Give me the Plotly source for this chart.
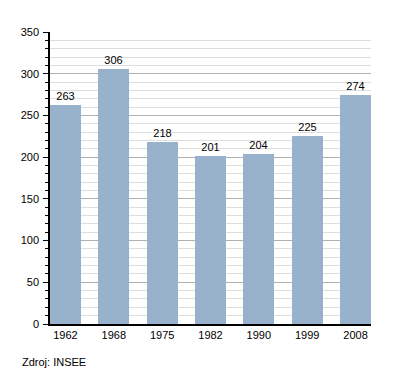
import plotly.graph_objects as go

years = ["1962", "1968", "1975", "1982", "1990", "1999", "2008"]
population = [263, 306, 218, 201, 204, 225, 274]
y_ticks = [0, 50, 100, 150, 200, 250, 300, 350]
source = "Zdroj: INSEE"

xs = list(range(len(years)))

fig = go.Figure(go.Bar(
    x=xs, y=population, width=0.64,
    marker=dict(color="#98b2cc", line=dict(width=0)),
    text=[str(v) for v in population], textposition="outside",
    textfont=dict(family="Liberation Sans, Arial", size=11, color="black"),
    cliponaxis=False,
))

fig.update_layout(
    width=400, height=373,
    margin=dict(l=50, r=29, t=32, b=49),
    paper_bgcolor="white", plot_bgcolor="white",
    font=dict(family="Liberation Sans, Arial", size=11, color="black"),
    showlegend=False,
    bargap=0,
)
fig.update_xaxes(
    range=[-0.32, 6.32], tickvals=xs, ticktext=years,
    showgrid=False, zeroline=False,
    showline=True, linecolor="black", linewidth=1.5,
    ticks="", ticklen=0,
)
fig.update_yaxes(
    range=[0, 350], tickvals=y_ticks,
    showgrid=True, gridcolor="#b0b0b0", gridwidth=1,
    zeroline=False,
    showline=True, linecolor="black", linewidth=1.5,
    ticks="outside", ticklen=5, tickcolor="black", tickwidth=1,
    ticklabelstandoff=2,
    minor=dict(dtick=10, showgrid=True, gridcolor="#dedede", gridwidth=1,
               ticks="outside", ticklen=3, tickcolor="black"),
)
fig.add_annotation(text=source, xref="paper", yref="paper", x=-0.095, y=-0.13,
                   xanchor="left", yanchor="middle", showarrow=False,
                   font=dict(family="Liberation Sans, Arial", size=11, color="black"))

fig.write_html("out.html")
